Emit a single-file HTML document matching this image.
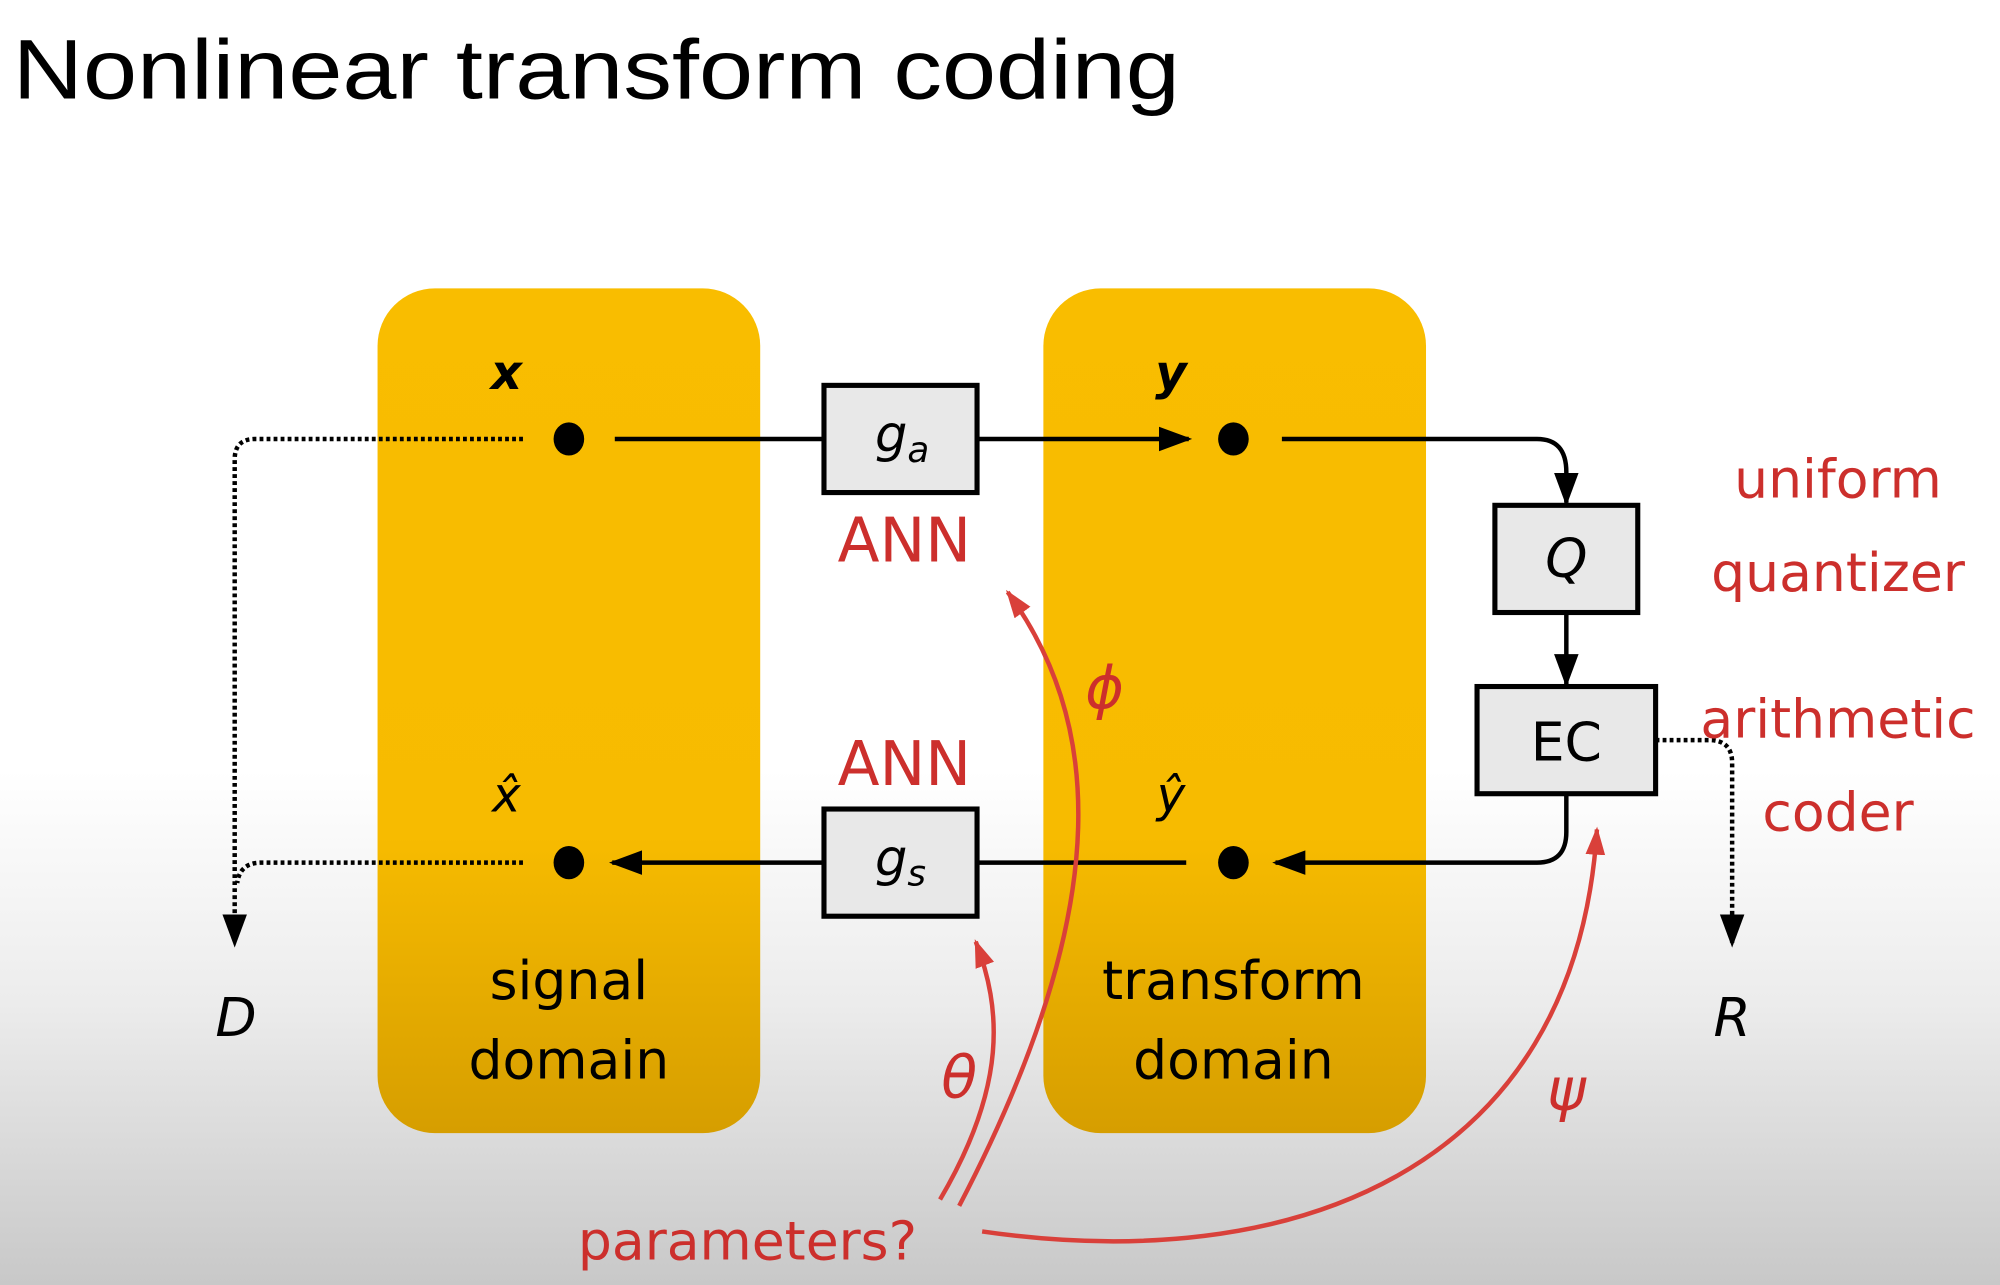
<!DOCTYPE html>
<html><head><meta charset="utf-8"><style>
html,body{margin:0;padding:0;background:#fff}
svg{display:block}
</style></head><body>
<svg width="2000" height="1285" viewBox="0 0 1568 1007" preserveAspectRatio="none" xmlns="http://www.w3.org/2000/svg" font-family="'Liberation Sans','DejaVu Sans',sans-serif">
<defs>
<linearGradient id="bg" x1="0" y1="0" x2="0" y2="1">
<stop offset="0" stop-color="#fff"/><stop offset="0.6" stop-color="#fff"/><stop offset="0.78" stop-color="#ececec"/><stop offset="1" stop-color="#c8c8c8"/>
</linearGradient>
<linearGradient id="yb" x1="0" y1="0" x2="0" y2="1">
<stop offset="0" stop-color="#f9bd00"/><stop offset="0.65" stop-color="#f7bb00"/><stop offset="1" stop-color="#d69e00"/>
</linearGradient>
<marker id="ak2" viewBox="0 0 10 10" refX="9" refY="5" markerWidth="26" markerHeight="26" markerUnits="userSpaceOnUse" orient="auto"><path d="M0,1.3 L10,5 L0,8.7 z" fill="#000"/></marker>
<marker id="ar" viewBox="0 0 10 10" refX="9" refY="5" markerWidth="22" markerHeight="22" markerUnits="userSpaceOnUse" orient="auto"><path d="M0,1.5 L10,5 L0,8.5 z" fill="#d9403a"/></marker>
</defs>
<rect width="1568" height="1007" fill="url(#bg)"/>
<text x="10" y="77" font-size="66" textLength="915" lengthAdjust="spacingAndGlyphs">Nonlinear transform coding</text>
<rect x="296" y="226" width="300" height="662" rx="45" fill="url(#yb)"/>
<rect x="818" y="226" width="300" height="662" rx="45" fill="url(#yb)"/>
<g stroke="#000" stroke-width="3.5" stroke-dasharray="3,2.5" fill="none">
<path d="M410,344 H200 Q184,344 184,360 V740" marker-end="url(#ak2)"/>
<path d="M410,676 H205 Q188,676 186,692"/>
<path d="M1298,580 H1340 Q1358,580 1358,598 V740" marker-end="url(#ak2)"/>
</g>
<g stroke="#000" stroke-width="3.5" fill="none">
<path d="M482,344 H646"/>
<path d="M766,344 H932" marker-end="url(#ak2)"/>
<path d="M1005,344 H1205 Q1228,344 1228,370 V394" marker-end="url(#ak2)"/>
<path d="M1228,480 V536" marker-end="url(#ak2)"/>
<path d="M1228,622 V652 Q1228,676 1205,676 H1000" marker-end="url(#ak2)"/>
<path d="M930,676 H766"/>
<path d="M646,676 H480" marker-end="url(#ak2)"/>
</g>
<g fill="#000">
<ellipse cx="446" cy="344" rx="12" ry="13"/><ellipse cx="967" cy="344" rx="12" ry="13"/>
<ellipse cx="446" cy="676" rx="12" ry="13"/><ellipse cx="967" cy="676" rx="12" ry="13"/>
</g>
<g fill="#e8e8e8" stroke="#000" stroke-width="4">
<rect x="646" y="302" width="120" height="84"/>
<rect x="646" y="634" width="120" height="84"/>
<rect x="1172" y="396" width="112" height="84"/>
<rect x="1158" y="538" width="140" height="84"/>
</g>
<g font-family="'DejaVu Sans','Liberation Sans',sans-serif" fill="#000">
<text x="686" y="354" font-size="40" font-style="italic">g<tspan font-size="28" dy="8">a</tspan></text>
<text x="686" y="686" font-size="40" font-style="italic">g<tspan font-size="28" dy="8">s</tspan></text>
<text x="1228" y="452" font-size="42" font-style="italic" text-anchor="middle">Q</text>
<text x="1228" y="596" font-size="42" text-anchor="middle">EC</text>
<text x="397" y="305" font-size="38" font-style="italic" font-weight="bold" text-anchor="middle">x</text>
<text x="918" y="305" font-size="38" font-style="italic" font-weight="bold" text-anchor="middle">y</text>
<text x="397" y="636" font-size="38" font-style="italic" text-anchor="middle">x̂</text>
<text x="918" y="636" font-size="38" font-style="italic" text-anchor="middle">ŷ</text>
<text x="185" y="812" font-size="42" font-style="italic" text-anchor="middle">D</text>
<text x="1358" y="812" font-size="42" font-style="italic" text-anchor="middle">R</text>
<text x="446" y="783" font-size="42" text-anchor="middle">signal</text>
<text x="446" y="845" font-size="42" text-anchor="middle">domain</text>
<text x="967" y="783" font-size="42" text-anchor="middle">transform</text>
<text x="967" y="845" font-size="42" text-anchor="middle">domain</text>
</g>
<g stroke="#d9403a" stroke-width="3.5" fill="none">
<path d="M752,945 C880,700 860,560 790,464" marker-end="url(#ar)"/>
<path d="M737,940 C790,850 785,790 765,738" marker-end="url(#ar)"/>
<path d="M770,965 C1010,1000 1235,920 1252,650" marker-end="url(#ar)"/>
</g>
<g fill="#cc2f2c" font-family="'DejaVu Sans','Liberation Sans',sans-serif">
<text x="709" y="440" font-size="48" text-anchor="middle">ANN</text>
<text x="709" y="615" font-size="48" text-anchor="middle">ANN</text>
<text x="1441" y="390" font-size="42" text-anchor="middle">uniform</text>
<text x="1441" y="463" font-size="42" text-anchor="middle">quantizer</text>
<text x="1441" y="578" font-size="42" text-anchor="middle">arithmetic</text>
<text x="1441" y="651" font-size="42" text-anchor="middle">coder</text>
<text x="586" y="987" font-size="42" text-anchor="middle">parameters?</text>
<text x="866" y="555" font-size="46" font-style="italic" text-anchor="middle">ϕ</text>
<text x="752" y="860" font-size="46" font-style="italic" text-anchor="middle">θ</text>
<text x="1228" y="870" font-size="46" font-style="italic" text-anchor="middle">ψ</text>
</g>
</svg>
</body></html>
